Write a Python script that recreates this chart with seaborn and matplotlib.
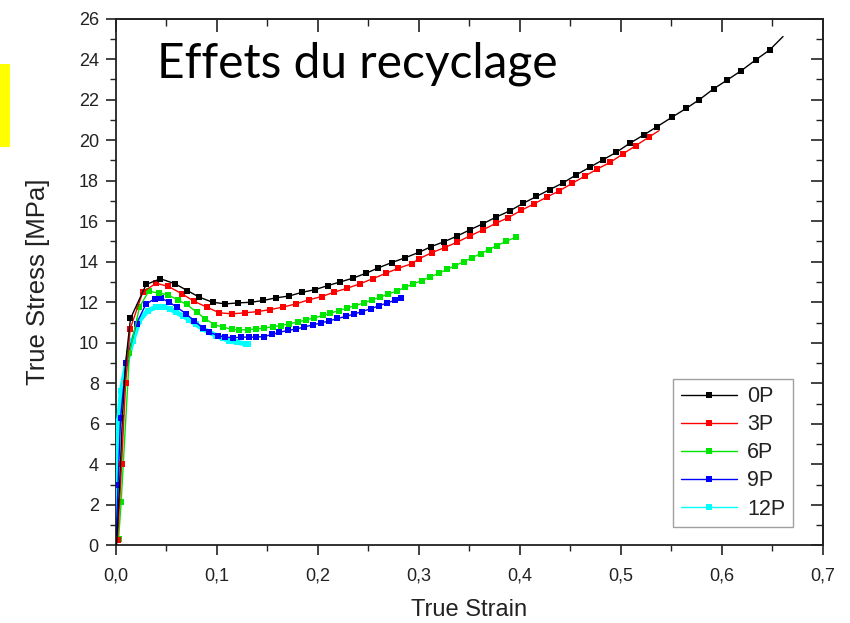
import matplotlib
matplotlib.use("Agg")
import matplotlib.pyplot as plt
import matplotlib.patches as mpatches
from matplotlib.ticker import MultipleLocator, FuncFormatter
import seaborn as sns
import pandas as pd

sns.set_theme(style="white")
plt.rcParams['font.family'] = ['Liberation Sans', 'DejaVu Sans']

# ---- data (true strain, true stress MPa) ----
strain_0P = [0.001, 0.004, 0.007, 0.010, 0.0148, 0.0304, 0.0445, 0.059, 0.0709, 0.083, 0.0962,
             0.1088, 0.1213, 0.1342, 0.1463, 0.1589, 0.172, 0.1844, 0.1973, 0.2099, 0.2223,
             0.235, 0.2479, 0.2603, 0.2734, 0.2864, 0.3001, 0.3127, 0.3253, 0.3378, 0.351,
             0.364, 0.377, 0.3903, 0.4034, 0.4166, 0.4298, 0.443, 0.4561, 0.4694, 0.4825,
             0.4957, 0.5092, 0.523, 0.5362, 0.5508, 0.565, 0.578, 0.592, 0.6056, 0.6195,
             0.6337, 0.6475, 0.6607]
stress_0P = [0.0, 3.0, 6.5, 9.0, 11.2, 12.88, 13.16, 12.91, 12.58, 12.25, 12.0,
             11.92, 11.97, 12.0, 12.09, 12.22, 12.31, 12.49, 12.62, 12.82, 13.0,
             13.19, 13.43, 13.7, 13.96, 14.19, 14.46, 14.75, 14.99, 15.26, 15.58,
             15.88, 16.21, 16.51, 16.88, 17.22, 17.56, 17.89, 18.29, 18.66, 19.03,
             19.4, 19.85, 20.26, 20.67, 21.13, 21.57, 22.0, 22.53, 22.97, 23.43,
             23.96, 24.45, 25.11]

strain_3P = [0.002, 0.006, 0.010, 0.0145, 0.027, 0.0402, 0.0524, 0.0656, 0.0781, 0.0903,
             0.1028, 0.1154, 0.1282, 0.1407, 0.1533, 0.1654, 0.1787, 0.1911, 0.204, 0.2165,
             0.2291, 0.2419, 0.2544, 0.2677, 0.2801, 0.293, 0.3006, 0.3132, 0.3258, 0.3384,
             0.351, 0.3636, 0.3762, 0.3888, 0.4014, 0.414, 0.4266, 0.4392, 0.4518, 0.4644,
             0.477, 0.4896, 0.5022, 0.5148, 0.528, 0.538]
stress_3P = [0.25, 4.0, 8.0, 10.69, 12.5, 12.94, 12.78, 12.42, 12.04, 11.76,
             11.48, 11.43, 11.48, 11.54, 11.64, 11.76, 11.92, 12.12, 12.28, 12.5,
             12.69, 12.91, 13.16, 13.43, 13.68, 13.9, 14.15, 14.45, 14.7, 14.97,
             15.28, 15.57, 15.89, 16.18, 16.53, 16.85, 17.18, 17.5, 17.86, 18.22,
             18.58, 18.9, 19.32, 19.72, 20.15, 20.47]

strain_6P = [0.003, 0.0056, 0.0138, 0.0237, 0.0329, 0.0428, 0.0517, 0.0616, 0.0705, 0.0804,
             0.089, 0.0979, 0.1068, 0.1154, 0.1226, 0.1308, 0.1391, 0.1473, 0.1555, 0.1638,
             0.172, 0.1802, 0.1886, 0.1968, 0.205, 0.2126, 0.2208, 0.2291, 0.2373, 0.2462,
             0.2538, 0.262, 0.2702, 0.2785, 0.2867, 0.2949, 0.3032, 0.3115, 0.3198, 0.3281,
             0.3364, 0.3447, 0.353, 0.3613, 0.3696, 0.3779, 0.3862, 0.3962]
stress_6P = [0.3, 2.17, 9.49, 11.76, 12.55, 12.45, 12.37, 12.12, 11.89, 11.51,
             11.18, 10.89, 10.77, 10.66, 10.64, 10.64, 10.69, 10.72, 10.8, 10.85,
             10.94, 11.02, 11.13, 11.23, 11.35, 11.46, 11.59, 11.71, 11.84, 11.97,
             12.12, 12.25, 12.42, 12.55, 12.74, 12.91, 13.07, 13.25, 13.43, 13.62,
             13.81, 14.01, 14.2, 14.4, 14.6, 14.8, 15.0, 15.21]

strain_9P = [0.0005, 0.0025, 0.005, 0.0104, 0.0208, 0.03, 0.0386, 0.0452, 0.0534, 0.0606,
             0.0699, 0.0781, 0.0863, 0.0929, 0.1011, 0.1088, 0.1167, 0.1243, 0.1325, 0.1391,
             0.1466, 0.1549, 0.1622, 0.1704, 0.1786, 0.1868, 0.195, 0.2032, 0.2114, 0.2196,
             0.2278, 0.236, 0.2442, 0.2524, 0.2606, 0.2688, 0.277, 0.2825]
stress_9P = [0.3, 3.0, 6.3, 9.02, 10.95, 11.9, 12.17, 12.2, 12.0, 11.76,
             11.43, 11.07, 10.74, 10.52, 10.36, 10.28, 10.25, 10.28, 10.28, 10.28,
             10.31, 10.41, 10.52, 10.61, 10.68, 10.78, 10.88, 10.98, 11.08, 11.2,
             11.3, 11.42, 11.54, 11.68, 11.82, 11.97, 12.1, 12.22]

strain_12P = [0.0, 0.0007, 0.003, 0.0056, 0.0106, 0.0171, 0.0237, 0.0319, 0.0402, 0.0443,
              0.0484, 0.054, 0.06, 0.0666, 0.0732, 0.0797, 0.0863, 0.093, 0.0996, 0.106,
              0.1127, 0.12, 0.1292, 0.131]
stress_12P = [1.1, 4.44, 6.12, 7.61, 8.96, 10.11, 11.1, 11.59, 11.76, 11.78,
              11.76, 11.68, 11.51, 11.33, 11.13, 10.91, 10.69, 10.52, 10.36, 10.22,
              10.11, 10.02, 9.95, 9.93]

series_names = ["0P", "3P", "6P", "9P", "12P"]
series_colors = ["#000000", "#FF0000", "#00E600", "#0000FF", "#00FFFF"]
x_ticks = [0.0, 0.1, 0.2, 0.3, 0.4, 0.5, 0.6, 0.7]
y_ticks = list(range(0, 27, 2))

data = {
    "0P": (strain_0P, stress_0P),
    "3P": (strain_3P, stress_3P),
    "6P": (strain_6P, stress_6P),
    "9P": (strain_9P, stress_9P),
    "12P": (strain_12P, stress_12P),
}

fig = plt.figure(figsize=(8.5, 6.23), dpi=100)
ax = fig.add_axes([0.1359, 0.1244, 0.8320, 0.8459])

styles = {
    "0P": dict(lw=1.0, ms=4.6),
    "3P": dict(lw=1.0, ms=4.6),
    "6P": dict(lw=1.0, ms=4.2),
    "9P": dict(lw=1.0, ms=4.2),
    "12P": dict(lw=3.5, ms=4.0),
}

for name, col in zip(series_names, series_colors):
    xs, ys = data[name]
    df = pd.DataFrame({"strain": xs, "stress": ys})
    kw = {}
    if name == "0P":
        kw["markevery"] = slice(4, len(xs) - 1)
    elif name == "3P":
        kw["markevery"] = slice(0, len(xs) - 1)
    sns.lineplot(data=df, x="strain", y="stress", ax=ax, color=col, sort=False,
                 estimator=None, marker="s", markersize=styles[name]["ms"],
                 markeredgewidth=0, linewidth=styles[name]["lw"], label=name,
                 zorder=5 - series_names.index(name) * 0.1, **kw)

ax.set_xlim(0, 0.7)
ax.set_ylim(0, 26)
ax.set_xticks(x_ticks)
ax.set_yticks(y_ticks)
ax.xaxis.set_minor_locator(MultipleLocator(0.05))
ax.yaxis.set_minor_locator(MultipleLocator(1))
ax.xaxis.set_major_formatter(FuncFormatter(lambda v, p: f"{v:.1f}".replace(".", ",")))
ax.yaxis.set_major_formatter(FuncFormatter(lambda v, p: f"{int(round(v))}"))

for s in ax.spines.values():
    s.set_color("#222222")
    s.set_linewidth(1.3)

ax.tick_params(axis="both", which="major", direction="out", length=7, width=1.2,
               colors="#222222", labelsize=13, labelcolor="#222222",
               bottom=True, left=True, top=False, right=False)
ax.tick_params(axis="x", which="major", pad=9)
ax.tick_params(axis="y", which="major", pad=5)
ax.tick_params(axis="both", which="minor", direction="out", length=4, width=1.0,
               colors="#222222", bottom=True, left=True, top=False, right=False)
# inward ticks on top and right (mirrored)
ax2 = ax.secondary_xaxis("top")
ax2.set_xticks(x_ticks)
ax2.xaxis.set_minor_locator(MultipleLocator(0.05))
ax2.tick_params(axis="x", which="major", direction="in", length=9, width=1.2,
                colors="#222222", labeltop=False)
ax2.tick_params(axis="x", which="minor", direction="in", length=5, width=1.0,
                colors="#222222")
ax2.set_xticklabels([])
ax3 = ax.secondary_yaxis("right")
ax3.set_yticks(y_ticks)
ax3.yaxis.set_minor_locator(MultipleLocator(1))
ax3.tick_params(axis="y", which="major", direction="in", length=9, width=1.2,
                colors="#222222", labelright=False)
ax3.tick_params(axis="y", which="minor", direction="in", length=5, width=1.0,
                colors="#222222")
ax3.set_yticklabels([])

ax.set_xlabel("True Strain", fontsize=17, color="#222222", labelpad=10)
ax.set_ylabel("True Stress [MPa]", fontsize=18.5, color="#222222", labelpad=21)

leg = ax.legend(loc="lower right", bbox_to_anchor=(0.958, 0.035), fontsize=15.5,
                frameon=True, fancybox=False, edgecolor="#888888",
                handlelength=2.6, handletextpad=0.5, labelspacing=0.33,
                borderpad=0.35, borderaxespad=0)
leg.get_frame().set_linewidth(1.0)
for t in leg.get_texts():
    t.set_color("#222222")
for h in leg.legend_handles:
    h.set_linewidth(1.0)

fig.text(157 / 850, 1 - 77 / 623, "Effets du recyclage", fontsize=34.5,
         family=["Lato", "DejaVu Sans"], color="black", ha="left", va="baseline")

fig.patches.append(mpatches.Rectangle((0, 1 - 147 / 623), 10 / 850, 83 / 623,
                                      transform=fig.transFigure, facecolor="#FFFF00",
                                      edgecolor="none", zorder=10))

fig.savefig("out.png", dpi=100)
